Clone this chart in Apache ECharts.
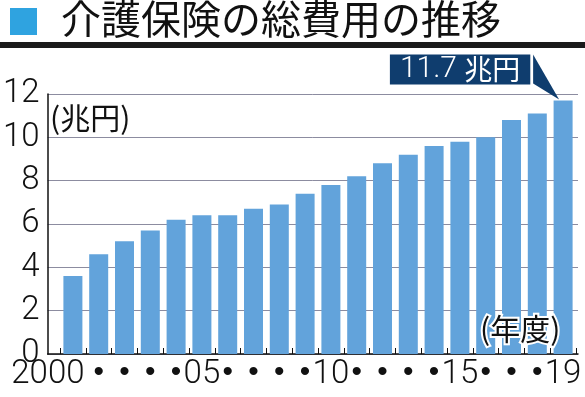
<!DOCTYPE html>
<html>
<head>
<meta charset="utf-8">
<script src="https://cdn.jsdelivr.net/npm/echarts@6/dist/echarts.min.js"></script>
<style>
  html, body { margin: 0; padding: 0; background: #fff; }
  #chart { width: 585px; height: 397px; }
</style>
</head>
<body>
<div id="chart"></div>
<script>
// 年度ラベル（2000〜2019）
const years = ['2000', '•', '•', '•', '•', '05', '•', '•', '•', '•',
  '10', '•', '•', '•', '•', '15', '•', '•', '•', '19']
// 介護保険の総費用（兆円）
const totalCost = [3.6, 4.6, 5.2, 5.7, 6.2, 6.4, 6.4, 6.7, 6.9, 7.4,
  7.8, 8.2, 8.8, 9.2, 9.6, 9.8, 10.0, 10.8, 11.1, 11.7]
const yTicks = { min: 0, max: 12, interval: 2 }

const numFont = 'Roboto, "Liberation Sans Narrow", sans-serif'
const jpFont = '"Noto Sans CJK JP", sans-serif'
const barColor = '#62a3db'
const navy = '#0f3d6e'

const chart = echarts.init(document.getElementById('chart'))

const lastIdx = totalCost.length - 1
const barData = totalCost.map((v, i) => {
  if (i !== lastIdx) return v
  return {
    value: v,
    label: {
      show: true,
      position: 'top',
      distance: 16,
      offset: [-103, 0],
      formatter: '{n|11.7 }{u|兆円}',
      backgroundColor: navy,
      padding: [0, 10, 0, 10],
      rich: {
        n: { color: '#fff', fontFamily: numFont, fontWeight: 300, fontSize: 30, lineHeight: 30 },
        u: { color: '#fff', fontFamily: jpFont, fontSize: 28, lineHeight: 30 },
      },
    },
  }
})

const xData = years.map((y, i) =>
  i === 0 ? { value: y, textStyle: { padding: [0, 50, 0, 0] } } : y
)

const option = {
  animation: false,
  title: {
    text: '介護保険の総費用の推移',
    left: 56,
    top: -6,
    textStyle: { fontFamily: jpFont, fontSize: 40, fontWeight: 'normal', color: '#111' },
  },
  grid: [
    { left: 45, right: 7, top: 94, bottom: 43 },
    { left: 60, right: 9, top: 94, bottom: 43 },
  ],
  xAxis: [
    {
      gridIndex: 0,
      type: 'value',
      min: 0,
      max: 1,
      axisLine: { show: true, lineStyle: { color: '#111', width: 1.5 } },
      axisTick: { show: false },
      axisLabel: { show: false },
      splitLine: { show: false },
    },
    {
      gridIndex: 1,
      type: 'category',
      data: xData,
      axisLine: { show: false },
      axisTick: { show: true, inside: true, length: 6, lineStyle: { color: '#111' } },
      axisLabel: {
        interval: 0,
        margin: 4,
        color: '#111',
        fontFamily: numFont,
        fontWeight: 300,
        fontSize: 33,
        formatter: (v) => (v === '•' ? '{d|•}' : v),
        rich: { d: { fontSize: 30, fontFamily: '"DejaVu Sans", sans-serif', color: '#111' } },
      },
    },
  ],
  yAxis: [
    {
      gridIndex: 0,
      type: 'value',
      ...yTicks,
      axisLine: { show: true, lineStyle: { color: '#111', width: 1.5 } },
      axisTick: { show: false },
      axisLabel: { margin: 8, color: '#111', fontFamily: numFont, fontWeight: 300, fontSize: 33 },
      splitLine: { lineStyle: { color: '#8c8ca0', width: 1 } },
    },
    {
      gridIndex: 1,
      type: 'value',
      ...yTicks,
      show: false,
      splitLine: { show: false },
    },
  ],
  series: [
    {
      type: 'bar',
      xAxisIndex: 1,
      yAxisIndex: 1,
      data: barData,
      barWidth: 19,
      itemStyle: { color: barColor },
      z: 3,
    },
  ],
  graphic: [
    { id: 'mark', type: 'rect', shape: { x: 10, y: 8, width: 27, height: 27 }, style: { fill: '#2fa3e0' } },
    { id: 'rule', type: 'rect', shape: { x: 0, y: 42, width: 585, height: 6 }, style: { fill: '#1a1a1a' } },
    {
      id: 'unit', type: 'text', left: 50, top: 103, z: 10,
      style: { text: '(兆円)', font: '30px ' + jpFont, fill: '#111' },
    },
    {
      id: 'year', type: 'text', left: 478, top: 312, z: 10,
      style: { text: '(年度)', font: '30px ' + jpFont, fill: '#111', stroke: '#fff', lineWidth: 4 },
    },
  ],
}

chart.setOption(option)

// 吹き出しの三角（最終年の棒の上端を指す）
const tip = chart.convertToPixel({ xAxisIndex: 1, yAxisIndex: 1 }, [lastIdx, totalCost[lastIdx]])
chart.setOption({
  graphic: [
    {
      id: 'pointer',
      type: 'polygon',
      z: 5,
      shape: {
        points: [
          [tip[0] - 30, tip[1] - 46],
          [tip[0] - 30, tip[1] - 17],
          [tip[0] - 4, tip[1] - 1],
        ],
      },
      style: { fill: navy },
    },
  ],
})
</script>
</body>
</html>
